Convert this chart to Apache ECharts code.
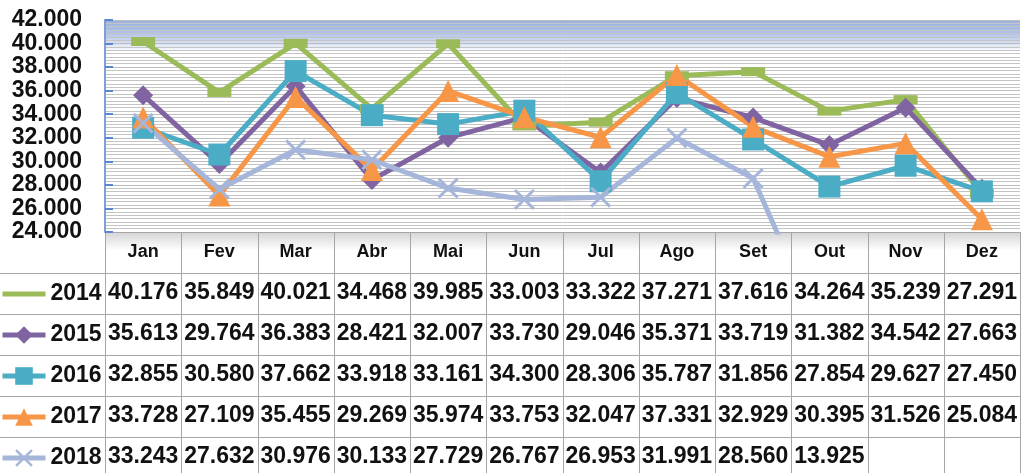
<!DOCTYPE html>
<html>
<head>
<meta charset="utf-8">
<style>
  html, body { margin: 0; padding: 0; background: #fff; }
  #chart { width: 1024px; height: 473px; }
</style>
</head>
<body>
<div id="chart"></div>
<script src="https://cdn.jsdelivr.net/npm/echarts@6/dist/echarts.min.js"></script>
<script>
const months = ['Jan', 'Fev', 'Mar', 'Abr', 'Mai', 'Jun', 'Jul', 'Ago', 'Set', 'Out', 'Nov', 'Dez'];
const years = ['2014', '2015', '2016', '2017', '2018'];
const v2014 = [40176, 35849, 40021, 34468, 39985, 33003, 33322, 37271, 37616, 34264, 35239, 27291];
const v2015 = [35613, 29764, 36383, 28421, 32007, 33730, 29046, 35371, 33719, 31382, 34542, 27663];
const v2016 = [32855, 30580, 37662, 33918, 33161, 34300, 28306, 35787, 31856, 27854, 29627, 27450];
const v2017 = [33728, 27109, 35455, 29269, 35974, 33753, 32047, 37331, 32929, 30395, 31526, 25084];
const v2018 = [33243, 27632, 30976, 30133, 27729, 26767, 26953, 31991, 28560, 13925, null, null];
const yTicks = [24000, 26000, 28000, 30000, 32000, 34000, 36000, 38000, 40000, 42000];

const values = [v2014, v2015, v2016, v2017, v2018];
const colors = ['#9bbb59', '#8064a2', '#4bacc6', '#f79646', '#a5b6da'];
const symbols = [
  'rect', 'diamond', 'rect', 'triangle',
  'path://M2,0L10,8L18,0L20,2L12,10L20,18L18,20L10,12L2,20L0,18L8,10L0,2Z'
];
const symbolSizes = [[24, 9], 20, 22, 22, 21];

const FONT = 'Liberation Sans';
const TABLE_TOP = 232;
const ROW_H = 41;

// 40176 -> "40.176"
function fmt(v) {
  if (v == null) return '';
  return String(v).replace(/\B(?=(\d{3})+(?!\d))/g, '.');
}

const chart = echarts.init(document.getElementById('chart'));

const xAxes = [{
  type: 'category',
  data: months,
  gridIndex: 0,
  position: 'bottom',
  boundaryGap: true,
  axisLine: { show: true, lineStyle: { color: '#a6a6a6', width: 1 } },
  axisTick: { show: false },
  axisLabel: {
    interval: 0, margin: 20, verticalAlign: 'middle',
    fontFamily: FONT, fontWeight: 'bold', fontSize: 18, color: '#111'
  }
}];
values.forEach(function (row, k) {
  xAxes.push({
    type: 'category',
    data: months,
    gridIndex: 0,
    position: 'bottom',
    offset: ROW_H * (k + 1),
    axisLine: { show: false },
    axisTick: { show: false },
    splitLine: { show: false },
    axisLabel: {
      interval: 0, margin: 20, verticalAlign: 'middle',
      fontFamily: FONT, fontWeight: 'bold', fontSize: 23, color: '#111',
      formatter: function (val, idx) { return fmt(row[idx]); }
    }
  });
});

const legends = years.map(function (y, k) {
  // the 2014 marker is a dash, so its key shows only the line
  const item = k === 0 ? { name: y, itemStyle: { opacity: 0 } } : y;
  return {
    data: [item],
    left: 0,
    padding: 0,
    top: TABLE_TOP + ROW_H * (k + 1) + 20 - 11,
    itemWidth: 43,
    itemHeight: 22,
    lineStyle: { width: 5 },
    textStyle: { fontFamily: FONT, fontWeight: 'bold', fontSize: 23, lineHeight: 24, color: '#111' },
    selectedMode: false
  };
});

const series = years.map(function (y, k) {
  return {
    name: y,
    type: 'line',
    data: values[k],
    xAxisIndex: 0,
    yAxisIndex: 0,
    symbol: symbols[k],
    symbolSize: symbolSizes[k],
    showAllSymbol: true,
    connectNulls: false,
    clip: true,
    lineStyle: { color: colors[k], width: 5 },
    itemStyle: { color: colors[k] },
    emphasis: { disabled: true },
    animation: false
  };
});

chart.setOption({
  animation: false,
  grid: {
    left: 105, right: 4, top: 20, bottom: 473 - TABLE_TOP,
    show: true, borderWidth: 0,
    backgroundColor: {
      type: 'linear', x: 0, y: 0, x2: 0, y2: 1,
      colorStops: [
        { offset: 0, color: '#98b0de' },
        { offset: 0.06, color: '#afc2e8' },
        { offset: 0.11, color: '#d6e0f3' },
        { offset: 0.15, color: '#ffffff' },
        { offset: 1, color: '#ffffff' }
      ]
    }
  },
  legend: legends,
  xAxis: xAxes,
  yAxis: {
    type: 'value',
    min: yTicks[0],
    max: yTicks[yTicks.length - 1],
    interval: 2000,
    axisLine: { show: true, lineStyle: { color: '#7f9fd6', width: 2 } },
    axisTick: { show: true, inside: true, length: 8, lineStyle: { color: '#5b86cf', width: 2 } },
    splitLine: { show: true, lineStyle: { color: '#bdbdbd', width: 1 } },
    minorTick: { show: false, splitNumber: 7 },
    minorSplitLine: { show: true, lineStyle: { color: '#c4c4c4', width: 1 } },
    axisLabel: {
      margin: 23, fontFamily: FONT, fontWeight: 'bold', fontSize: 23, color: '#111',
      formatter: function (v) { return fmt(v); }
    }
  },
  series: series
});

// table borders, column edges taken from the category axis
function drawTable() {
  const p0 = chart.convertToPixel({ xAxisIndex: 0 }, 0);
  const p1 = chart.convertToPixel({ xAxisIndex: 0 }, 1);
  const band = p1 - p0;
  const left = p0 - band / 2;
  const right = left + band * months.length;
  const bottom = 473;
  const lineStyle = { stroke: '#a6a6a6', lineWidth: 1 };
  const els = [];
  els.push({
    type: 'rect', z: -1,
    shape: { x: left, y: TABLE_TOP, width: right - left, height: ROW_H },
    style: {
      fill: {
        type: 'linear', x: 0, y: 0, x2: 0, y2: 1,
        colorStops: [
          { offset: 0, color: '#d4d4d4' },
          { offset: 0.45, color: '#ffffff' },
          { offset: 1, color: '#ffffff' }
        ]
      }
    }
  });
  for (let i = 0; i <= months.length; i++) {
    const x = Math.round(left + band * i) + 0.5;
    els.push({ type: 'line', shape: { x1: x, y1: TABLE_TOP, x2: x, y2: bottom }, style: lineStyle });
  }
  for (let r = 1; r <= years.length; r++) {
    const y = TABLE_TOP + ROW_H * r + 0.5;
    els.push({ type: 'line', shape: { x1: 0, y1: y, x2: right, y2: y }, style: lineStyle });
  }
  chart.setOption({ graphic: { elements: els } });
}
drawTable();
</script>
</body>
</html>
